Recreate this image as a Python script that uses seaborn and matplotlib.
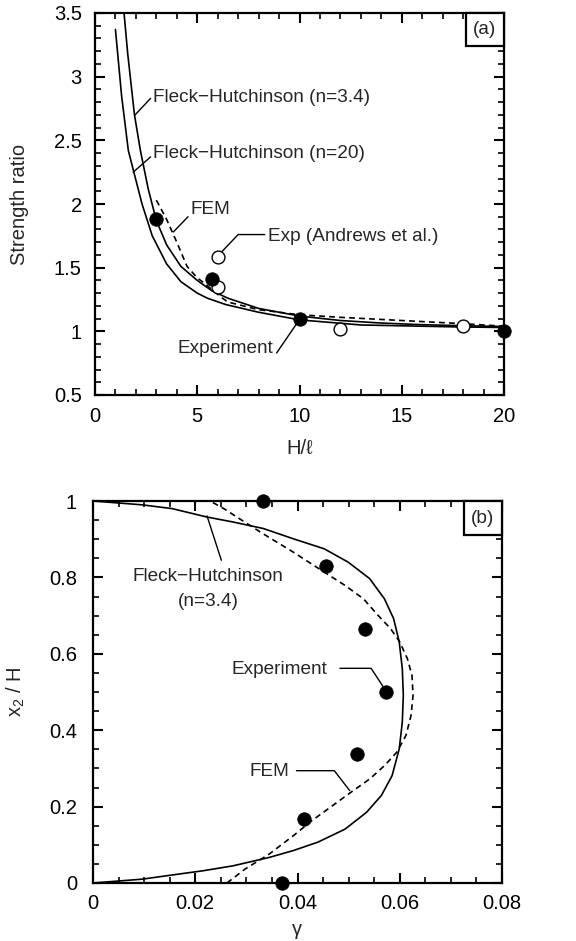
import matplotlib
matplotlib.use("Agg")
import matplotlib.pyplot as plt
import seaborn as sns
from matplotlib.ticker import MultipleLocator
from matplotlib.patches import Rectangle

# ---------------- Panel (a): strength ratio vs H/l ----------------
fh34_x = [1.42, 1.6, 1.93, 2.22, 2.6, 3.0, 3.5, 4.2, 5.0, 5.7, 6.5, 8.0, 10.0, 12.0, 14.0, 16.0, 18.0, 20.0]
fh34_y = [3.5, 3.18, 2.70, 2.42, 2.12, 1.87, 1.68, 1.51, 1.40, 1.32, 1.26, 1.18, 1.12, 1.085, 1.065, 1.052, 1.044, 1.038]

fh20_x = [1.0, 1.3, 1.63, 1.9, 2.3, 2.8, 3.5, 4.2, 5.0, 5.5, 6.4, 8.0, 10.0, 13.0, 17.6, 20.0]
fh20_y = [3.37, 2.85, 2.42, 2.25, 2.0, 1.75, 1.53, 1.39, 1.30, 1.26, 1.21, 1.15, 1.09, 1.05, 1.035, 1.03]

fema_x = [3.0, 3.5, 4.0, 4.5, 5.0, 5.33, 6.15, 6.5, 8.0, 10.0, 12.0, 15.0, 18.0, 20.0]
fema_y = [2.03, 1.88, 1.70, 1.51, 1.42, 1.38, 1.27, 1.23, 1.17, 1.13, 1.11, 1.085, 1.06, 1.04]

expa_x = [3.0, 5.7, 10.0, 20.0]
expa_y = [1.88, 1.41, 1.10, 1.005]

andrews_x = [6.0, 6.0, 12.0, 18.0]
andrews_y = [1.585, 1.35, 1.015, 1.045]

# ---------------- Panel (b): x2/H vs gamma ----------------
fhb_g = [0.0, 0.0096, 0.0155, 0.0215, 0.0274, 0.0345, 0.0392, 0.0440, 0.0493, 0.0535,
         0.0564, 0.0585, 0.0599, 0.0605, 0.0607, 0.0605, 0.0599, 0.0588, 0.0570, 0.0541,
         0.0499, 0.0452, 0.0392, 0.0333, 0.0274, 0.0223, 0.0155, 0.0096, 0.0]
fhb_y = [0.0, 0.010, 0.021, 0.032, 0.045, 0.067, 0.085, 0.107, 0.141, 0.185,
         0.229, 0.281, 0.351, 0.421, 0.491, 0.561, 0.631, 0.692, 0.744, 0.797,
         0.840, 0.875, 0.901, 0.928, 0.945, 0.958, 0.980, 0.990, 1.0]

femb_g = [0.0262, 0.0298, 0.0345, 0.0392, 0.0428, 0.0469, 0.0505, 0.0541, 0.0570, 0.0594,
          0.0612, 0.0622, 0.0626, 0.0624, 0.0615, 0.0600, 0.0582, 0.0558, 0.0529, 0.0493,
          0.0452, 0.0392, 0.0333, 0.0286, 0.0256, 0.0229]
femb_y = [0.0, 0.037, 0.076, 0.124, 0.163, 0.203, 0.238, 0.272, 0.307, 0.342,
          0.386, 0.438, 0.491, 0.543, 0.587, 0.631, 0.666, 0.700, 0.744, 0.779,
          0.814, 0.866, 0.914, 0.954, 0.980, 1.0]

expb_g = [0.0369, 0.0412, 0.0517, 0.0573, 0.0533, 0.0455, 0.0332]
expb_y = [0.0, 0.168, 0.337, 0.501, 0.664, 0.831, 1.0]

sns.set_theme(style="ticks")
plt.rcParams['font.family'] = ['Liberation Sans', 'DejaVu Sans']
plt.rcParams['mathtext.fontset'] = 'custom'
plt.rcParams['mathtext.rm'] = 'Liberation Sans'
plt.rcParams['mathtext.it'] = 'Liberation Sans:italic'

TFS = 14.5   # tick / axis labels
AFS = 13.7   # annotations

fig = plt.figure(figsize=(5.76, 9.41), dpi=100)
axa = fig.add_axes([95/576, 1-395/941, 409/576, 382/941])
axb = fig.add_axes([93/576, 1-883/941, 409/576, 382/941])

def style_axes(ax, ypad, xpad):
    for s in ax.spines.values():
        s.set_linewidth(1.6)
        s.set_color('black')
    ax.tick_params(which='both', direction='in', top=True, right=True, colors='black',
                   labelsize=TFS)
    ax.tick_params(axis='y', which='both', pad=ypad)
    ax.tick_params(axis='x', which='both', pad=xpad)
    ax.tick_params(which='major', length=7, width=1.5)
    ax.tick_params(which='minor', length=4, width=1.2)

lw = 1.2
dash = (0, (3.5, 2.5))

# ---- panel (a)
sns.lineplot(x=fh34_x, y=fh34_y, sort=False, estimator=None, color='black', lw=lw, ax=axa)
sns.lineplot(x=fh20_x, y=fh20_y, sort=False, estimator=None, color='black', lw=lw, ax=axa)
sns.lineplot(x=fema_x, y=fema_y, sort=False, estimator=None, color='black', lw=lw,
             linestyle=dash, ax=axa)
sns.scatterplot(x=andrews_x, y=andrews_y, s=85, facecolor='white', edgecolor='black',
                linewidth=1.0, zorder=5, clip_on=False, ax=axa)
sns.scatterplot(x=expa_x, y=expa_y, s=95, color='black', edgecolor='black',
                linewidth=0.5, zorder=6, clip_on=False, ax=axa)

axa.set_xlim(0, 20)
axa.set_ylim(0.5, 3.5)
axa.xaxis.set_major_locator(MultipleLocator(5))
axa.xaxis.set_minor_locator(MultipleLocator(1))
axa.set_yticks([0.5, 1, 1.5, 2, 2.5, 3, 3.5])
axa.set_yticklabels(['0.5', '1', '1.5', '2', '2.5', '3', '3.5'])
axa.yaxis.set_minor_locator(MultipleLocator(0.1))
style_axes(axa, ypad=9.5, xpad=9)
axa.set_xlabel('H/ℓ', fontsize=TFS, labelpad=9)
axa.set_ylabel('Strength ratio', fontsize=TFS, labelpad=18)

axa.text(2.85, 2.84, 'Fleck−Hutchinson (n=3.4)', fontsize=AFS, va='center', ha='left')
axa.plot([1.96, 2.72], [2.70, 2.83], color='black', lw=1.0)
axa.text(2.82, 2.40, 'Fleck−Hutchinson (n=20)', fontsize=AFS, va='center', ha='left')
axa.plot([1.87, 2.72], [2.25, 2.37], color='black', lw=1.0)
axa.text(4.65, 1.96, 'FEM', fontsize=AFS, va='center', ha='left')
axa.plot([3.83, 4.55], [1.78, 1.90], color='black', lw=1.0)
axa.text(8.45, 1.745, 'Exp (Andrews et al.)', fontsize=AFS, va='center', ha='left')
axa.plot([6.2, 7.0, 8.3], [1.625, 1.76, 1.76], color='black', lw=1.0)
axa.text(8.7, 0.865, 'Experiment', fontsize=AFS, va='center', ha='right')
axa.plot([8.88, 9.86], [0.83, 1.06], color='black', lw=1.0)

axa.add_patch(Rectangle((0.907, 0.914), 0.093, 0.086, transform=axa.transAxes,
                        facecolor='white', edgecolor='black', lw=1.6, zorder=7, clip_on=False))
axa.text(0.9535, 0.957, '(a)', transform=axa.transAxes, fontsize=AFS, ha='center',
         va='center', zorder=8)

# ---- panel (b)
sns.lineplot(x=fhb_g, y=fhb_y, sort=False, estimator=None, color='black', lw=lw, ax=axb)
sns.lineplot(x=femb_g, y=femb_y, sort=False, estimator=None, color='black', lw=lw,
             linestyle=dash, ax=axb)
sns.scatterplot(x=expb_g, y=expb_y, s=95, color='black', edgecolor='black',
                linewidth=0.5, zorder=6, clip_on=False, ax=axb)

axb.set_xlim(0, 0.08)
axb.set_ylim(0, 1)
axb.set_xticks([0, 0.02, 0.04, 0.06, 0.08])
axb.set_xticklabels(['0', '0.02', '0.04', '0.06', '0.08'])
axb.xaxis.set_minor_locator(MultipleLocator(0.005))
axb.set_yticks([0, 0.2, 0.4, 0.6, 0.8, 1.0])
axb.set_yticklabels(['0', '0.2', '0.4', '0.6', '0.8', '1'])
axb.yaxis.set_minor_locator(MultipleLocator(0.05))
style_axes(axb, ypad=11.5, xpad=8)
axb.set_xlabel('γ', fontsize=TFS, labelpad=5)
axb.set_ylabel('x$_2$ / H', fontsize=TFS, labelpad=16)

axb.text(0.0224, 0.803, 'Fleck−Hutchinson', fontsize=AFS, va='center', ha='center')
axb.text(0.0226, 0.736, '(n=3.4)', fontsize=AFS, va='center', ha='center')
axb.plot([0.0251, 0.0223], [0.845, 0.961], color='black', lw=1.0)
axb.text(0.0459, 0.559, 'Experiment', fontsize=AFS, va='center', ha='right')
axb.plot([0.0483, 0.0544, 0.0567], [0.562, 0.562, 0.515], color='black', lw=1.0)
axb.text(0.0384, 0.292, 'FEM', fontsize=AFS, va='center', ha='right')
axb.plot([0.0398, 0.0472, 0.0502], [0.294, 0.294, 0.242], color='black', lw=1.0)

axb.add_patch(Rectangle((0.907, 0.910), 0.093, 0.090, transform=axb.transAxes,
                        facecolor='white', edgecolor='black', lw=1.6, zorder=7, clip_on=False))
axb.text(0.9535, 0.955, '(b)', transform=axb.transAxes, fontsize=AFS, ha='center',
         va='center', zorder=8)

fig.savefig('out.png', dpi=100)
